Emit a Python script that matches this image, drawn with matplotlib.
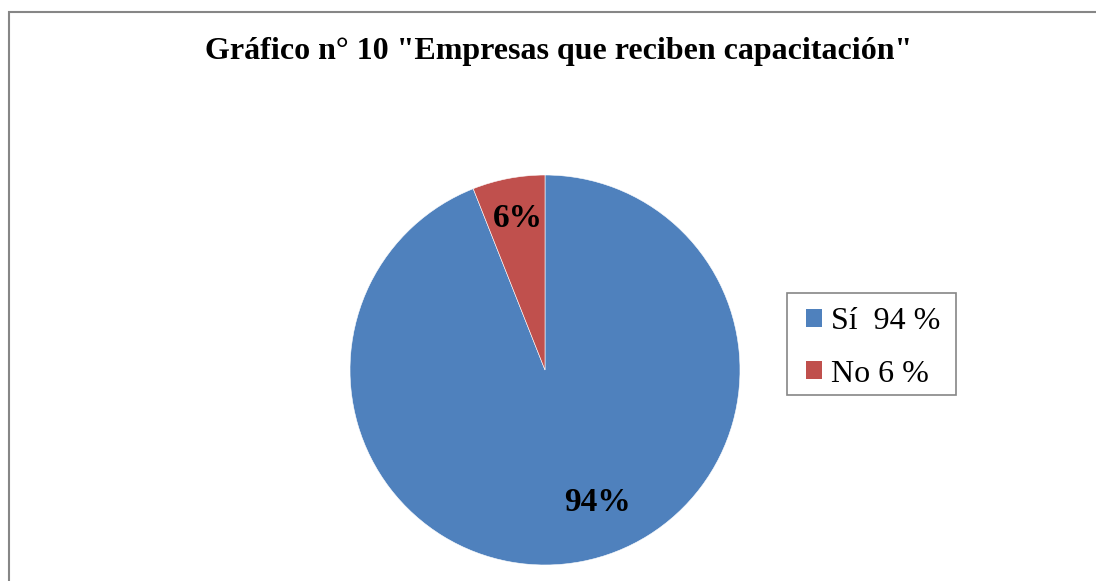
import matplotlib
matplotlib.use("Agg")
import matplotlib.pyplot as plt
from matplotlib.patches import Rectangle, Patch

title = 'Gráfico n° 10 "Empresas que reciben capacitación"'
categories = ["Sí", "No"]
values = [94, 6]
legend_labels = ["Sí  94 %", "No 6 %"]
colors = ["#4F81BD", "#C0504D"]

W, H = 1096, 581
fig = plt.figure(figsize=(W / 100, H / 100), dpi=100)
plt.rcParams["font.family"] = ["Liberation Serif", "DejaVu Serif"]

cx, cy, r = 545, 370, 195
ax = fig.add_axes([(cx - r) / W, (H - cy - r) / H, 2 * r / W, 2 * r / H])
wedges, texts, autotexts = ax.pie(
    values, colors=colors, startangle=90, counterclock=False,
    autopct="%1.0f%%", pctdistance=0.8,
    wedgeprops=dict(edgecolor="white", linewidth=0.4),
    textprops=dict(fontsize=24, fontweight="bold", color="black"),
)
ax.set_xlim(-1, 1)
ax.set_ylim(-1, 1)
# Excel-like label placement
autotexts[0].set_position((0.27, -0.682))
autotexts[1].set_position((-0.14, 0.775))

fig.text(558.5 / W, 1 - 52 / H, title, ha="center", va="center",
         fontsize=23, fontweight="bold")

# legend box
fig.add_artist(Rectangle((787 / W, 1 - 395 / H), (956 - 787) / W, (395 - 293) / H,
                         transform=fig.transFigure, fill=False,
                         edgecolor="#868686", linewidth=1.2))
handles = [Patch(facecolor=c, edgecolor="none") for c in colors]
leg = fig.legend(handles, legend_labels, loc="upper left",
                 bbox_to_anchor=(806 / W, 1 - 307 / H),
                 frameon=False, fontsize=23,
                 handlelength=0.5, handleheight=0.5, handletextpad=0.28,
                 labelspacing=0.74, borderpad=0, borderaxespad=0)

fig.add_artist(Rectangle((8.5 / W, -0.1), 2, (H - 11.5) / H + 0.1,
                         transform=fig.transFigure, fill=False,
                         edgecolor="#868686", linewidth=1.5))

fig.savefig("out.png", dpi=100)
